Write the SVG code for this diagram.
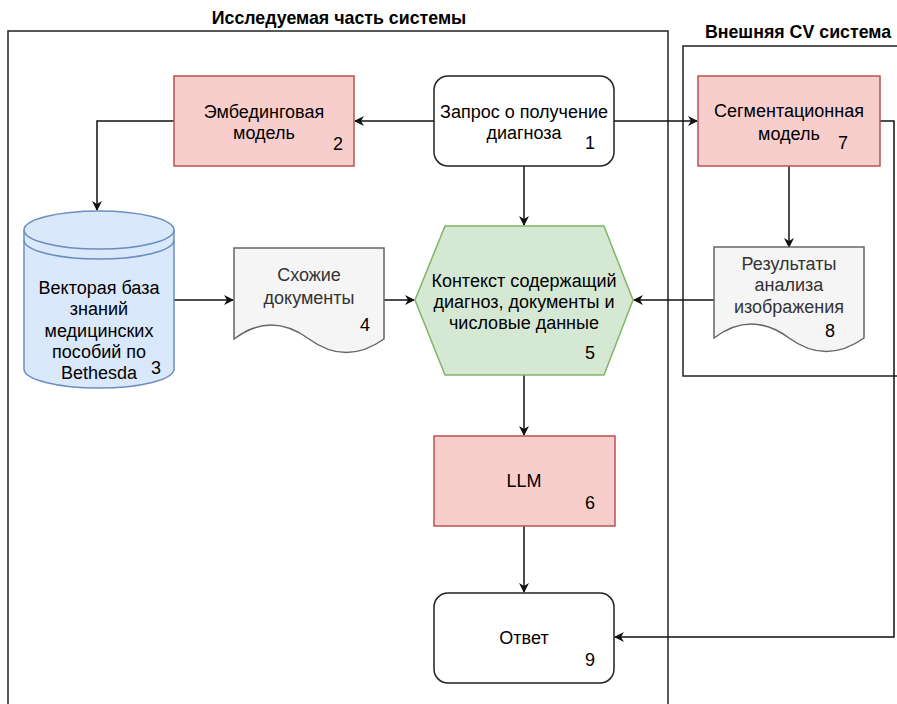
<svg xmlns="http://www.w3.org/2000/svg" width="897" height="704" viewBox="0 0 897 704">
<style>
text{font-family:"Liberation Sans",Arial,sans-serif;font-size:18px;fill:#000;text-anchor:middle}
.title{font-weight:bold;font-size:17.8px}
.gray{fill:#333}
.frame{fill:none;stroke:#222;stroke-width:1.5}
.red{fill:#f8cecc;stroke:#b85450;stroke-width:1.5}
.white{fill:#fff;stroke:#222;stroke-width:1.5}
.green{fill:#d5e8d4;stroke:#82b366;stroke-width:1.5}
.doc{fill:#f5f5f5;stroke:#666;stroke-width:1.5}
.blue{fill:#dae8fc;stroke:#6c8ebf;stroke-width:1.5}
.line{fill:none;stroke:#6c8ebf;stroke-width:1.5}
.edge{fill:none;stroke:#111;stroke-width:1.5}
.arr{marker-end:url(#ah)}
</style>
<defs>
<marker id="ah" viewBox="0 0 10 10" refX="9" refY="5" markerWidth="10" markerHeight="10" markerUnits="userSpaceOnUse" orient="auto">
<path d="M0,0 L10,5 L0,10 L3,5 Z" fill="#111"/>
</marker>
</defs>
<rect width="897" height="704" fill="#fff"/>
<g id="frame-main">
<rect class="frame" x="8" y="31" width="660" height="700"/>
<text class="title" x="339" y="24">Исследуемая часть системы</text>
</g>
<g id="frame-cv">
<rect class="frame" x="683" y="46" width="260" height="330"/>
<text class="title" x="798" y="38">Внешняя CV система</text>
</g>
<g id="connectors">
<path class="edge arr" d="M434,121 H355"/>
<path class="edge arr" d="M614,121 H697"/>
<path class="edge arr" d="M174,121 H97 V210"/>
<path class="edge arr" d="M524,166 V225"/>
<path class="edge arr" d="M174,300 H233"/>
<path class="edge arr" d="M384,300 H414"/>
<path class="edge arr" d="M714,300 H634"/>
<path class="edge arr" d="M789,166 V247"/>
<path class="edge arr" d="M524,375 V435"/>
<path class="edge arr" d="M524,526 V592"/>
<path class="edge arr" d="M880,121 H894 V637 H615"/>
</g>
<g id="node1">
<rect class="white" x="434" y="76" width="180" height="90" rx="14"/>
<text x="524" y="118">Запрос о получение</text>
<text x="524" y="139">диагноза</text>
<text x="590" y="149">1</text>
</g>
<g id="node2">
<rect class="red" x="174" y="76" width="180" height="90"/>
<text x="264" y="118">Эмбединговая</text>
<text x="264" y="139">модель</text>
<text x="338" y="150">2</text>
</g>
<g id="node3">
<path class="blue" d="M24,230 A75,19 0 0 1 174,230 V369 A75,19 0 0 1 24,369 Z"/>
<path class="line" d="M24,230 A75,19 0 0 0 174,230 M24,240 A75,19 0 0 0 174,240"/>
<text x="99" y="294">Векторая база</text>
<text x="99" y="315">знаний</text>
<text x="99" y="337">медицинских</text>
<text x="99" y="358">пособий по</text>
<text x="99" y="379">Bethesda</text>
<text x="156" y="374">3</text>
</g>
<g id="node4">
<path class="doc" d="M234,248 H384 V339 Q346,366 309,339 Q271,311 234,339 Z"/>
<text class="gray" x="309" y="281">Схожие</text>
<text class="gray" x="309" y="304">документы</text>
<text x="365" y="331">4</text>
</g>
<g id="node5">
<polygon class="green" points="415,300 445,226 604,226 633,300 604,375 445,375"/>
<text x="524" y="287">Контекст содержащий</text>
<text x="524" y="308">диагноз, документы и</text>
<text x="524" y="329">числовые данные</text>
<text x="590" y="359">5</text>
</g>
<g id="node6">
<rect class="red" x="434" y="436" width="181" height="90"/>
<text x="524" y="487">LLM</text>
<text x="590" y="509">6</text>
</g>
<g id="node7">
<rect class="red" x="698" y="76" width="182" height="90"/>
<text x="789" y="117">Сегментационная</text>
<text x="789" y="140">модель</text>
<text x="843" y="149">7</text>
</g>
<g id="node8">
<path class="doc" d="M714,247 H864 V338 Q826,365 789,338 Q751,310 714,338 Z"/>
<text class="gray" x="789" y="270">Результаты</text>
<text class="gray" x="789" y="291">анализа</text>
<text class="gray" x="789" y="313">изображения</text>
<text x="830" y="337">8</text>
</g>
<g id="node9">
<rect class="white" x="434" y="593" width="180" height="90" rx="14"/>
<text x="524" y="644">Ответ</text>
<text x="590" y="666">9</text>
</g>
</svg>
